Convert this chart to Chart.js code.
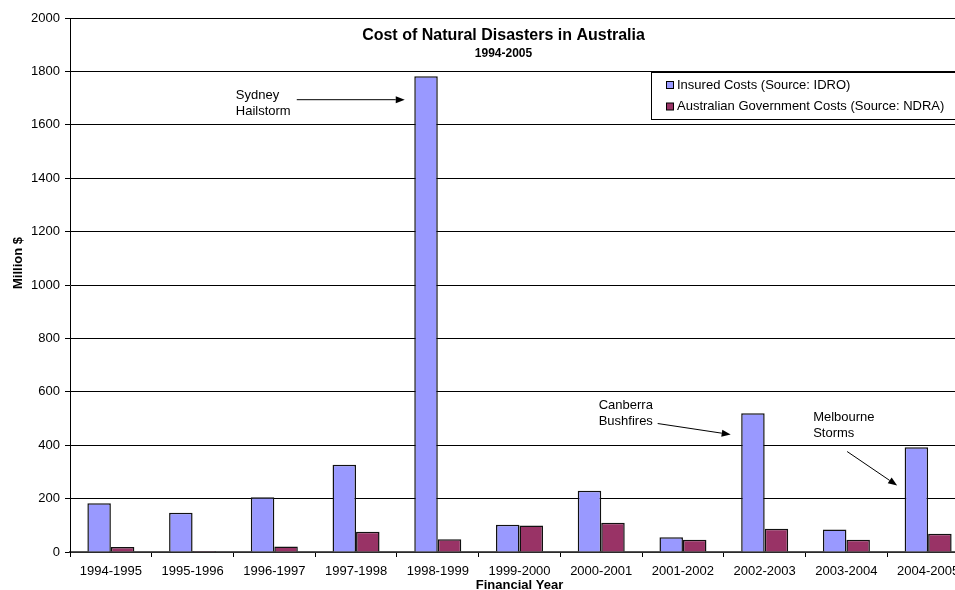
<!DOCTYPE html>
<html>
<head>
<meta charset="utf-8">
<script src="https://cdn.jsdelivr.net/npm/chart.js@4.4.1/dist/chart.umd.min.js"></script>
<style>
  html, body { margin: 0; padding: 0; background: #fff; overflow: hidden; }
  #wrap { width: 1007px; height: 590px; }
</style>
</head>
<body>
<div id="wrap"><canvas id="disasterChart" width="1007" height="590"></canvas></div>
<script>
// data
const categories = ["1994-1995", "1995-1996", "1996-1997", "1997-1998", "1998-1999", "1999-2000",
  "2000-2001", "2001-2002", "2002-2003", "2003-2004", "2004-2005"];
const insuredCosts = [183, 147, 205, 327, 1782, 102, 229, 55, 520, 84, 392];
const govCosts = [19, 4, 21, 76, 48, 99, 110, 46, 87, 46, 68];
const yTickValues = [0, 200, 400, 600, 800, 1000, 1200, 1400, 1600, 1800, 2000];

// callouts: which bar, and the value the arrow points at
const callouts = [
  { lines: ["Sydney", "Hailstorm"], index: 4, value: 1694, tipDx: -33, tail: [-108, 0], text: [-169, -4] },
  { lines: ["Canberra", "Bushfires"], index: 8, value: 440, tipDx: -34, tail: [-73, -11], text: [-132, -29] },
  { lines: ["Melbourne", "Storms"], index: 10, value: 249, tipDx: -31, tail: [-50, -34], text: [-84, -68] },
];

const FONT = "'Liberation Sans', Arial, sans-serif";

function arrow(ctx, x1, y1, x2, y2) {
  const ang = Math.atan2(y2 - y1, x2 - x1);
  const len = 9, half = 3.5;
  ctx.beginPath();
  ctx.moveTo(x1, y1);
  ctx.lineTo(x2 - Math.cos(ang) * len, y2 - Math.sin(ang) * len);
  ctx.stroke();
  ctx.beginPath();
  ctx.moveTo(x2, y2);
  ctx.lineTo(x2 - Math.cos(ang) * len - Math.sin(ang) * half, y2 - Math.sin(ang) * len + Math.cos(ang) * half);
  ctx.lineTo(x2 - Math.cos(ang) * len + Math.sin(ang) * half, y2 - Math.sin(ang) * len - Math.cos(ang) * half);
  ctx.closePath();
  ctx.fill();
}

const overlay = {
  id: "overlay",
  afterDraw(chart) {
    const ctx = chart.ctx;
    const area = chart.chartArea;
    const xs = chart.scales.x, ys = chart.scales.y;
    ctx.save();
    ctx.fillStyle = "#000";
    ctx.strokeStyle = "#000";
    ctx.lineWidth = 1;

    // titles
    ctx.textAlign = "center";
    ctx.textBaseline = "middle";
    ctx.font = "bold 16px " + FONT;
    ctx.fillText("Cost of Natural Disasters in Australia", 503.5, 36);
    ctx.font = "bold 12px " + FONT;
    ctx.fillText("1994-2005", 503.5, 54);

    // axis titles
    ctx.font = "bold 13px " + FONT;
    ctx.fillText("Financial Year", (area.left + area.right) / 2, 585.5);
    ctx.save();
    ctx.translate(18, 263);
    ctx.rotate(-Math.PI / 2);
    ctx.fillText("Million $", 0, 0);
    ctx.restore();

    // legend box
    const lx = 651.5, ly = 72.5, lw = 310, lh = 47;
    ctx.fillStyle = "#fff";
    ctx.fillRect(lx, ly, lw, lh);
    ctx.strokeStyle = "#000";
    ctx.strokeRect(lx, ly, lw, lh);
    ctx.font = "13px " + FONT;
    ctx.textAlign = "left";
    chart.data.datasets.forEach((ds, i) => {
      const cy = 85 + i * 21.5;
      ctx.fillStyle = ds.backgroundColor;
      ctx.fillRect(666.5, cy - 3.5, 7, 7);
      ctx.strokeStyle = "#000";
      ctx.strokeRect(666.5, cy - 3.5, 7, 7);
      ctx.fillStyle = "#000";
      ctx.fillText(ds.label, 677, cy);
    });

    // callouts
    ctx.font = "13px " + FONT;
    ctx.textAlign = "left";
    callouts.forEach((c) => {
      const tx = xs.getPixelForValue(c.index) + c.tipDx;
      const ty = ys.getPixelForValue(c.value);
      ctx.fillStyle = "#000";
      c.lines.forEach((t, k) => ctx.fillText(t, tx + c.text[0], ty + c.text[1] + k * 15.5));
      arrow(ctx, tx + c.tail[0], ty + c.tail[1], tx, ty);
    });
    ctx.restore();
  },
};

const ctx = document.getElementById("disasterChart").getContext("2d");
new Chart(ctx, {
  type: "bar",
  data: {
    labels: categories,
    datasets: [
      {
        label: "Insured Costs (Source: IDRO)",
        data: insuredCosts,
        backgroundColor: "#9999FF",
        borderColor: "#111",
        borderWidth: 1.5,
      },
      {
        label: "Australian Government Costs (Source: NDRA)",
        data: govCosts,
        backgroundColor: "#993366",
        borderColor: "#111",
        borderWidth: 1.5,
      },
    ],
  },
  options: {
    responsive: false,
    animation: false,
    devicePixelRatio: 1,
    layout: { padding: { top: 18, right: 38, left: 0, bottom: 0 } },
    datasets: { bar: { barPercentage: 1, categoryPercentage: 0.575 } },
    plugins: {
      legend: { display: false },
      title: { display: false },
      tooltip: { enabled: false },
    },
    scales: {
      x: {
        afterFit: (s) => { s.height = 38; },
        grid: { drawOnChartArea: false, tickLength: 5, color: "#000", offset: true },
        border: { color: "#555", width: 1.5 },
        ticks: { color: "#000", font: { family: FONT, size: 13 }, padding: 7, maxRotation: 0, autoSkip: false },
      },
      y: {
        min: 0,
        max: 2000,
        afterFit: (s) => { s.width = 70; },
        afterBuildTicks: (s) => { s.ticks = yTickValues.map((v) => ({ value: v })); },
        grid: { color: "#000", tickLength: 5 },
        border: { color: "#000", width: 1 },
        ticks: { color: "#000", font: { family: FONT, size: 13 }, padding: 5, callback: (v) => String(v) },
      },
    },
  },
  plugins: [overlay],
});
</script>
</body>
</html>
